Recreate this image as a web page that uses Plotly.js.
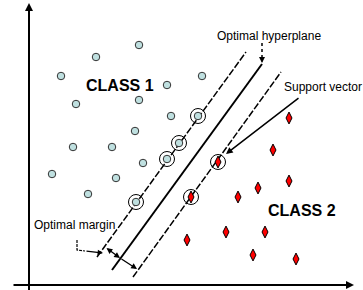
<!DOCTYPE html>
<html><head><meta charset="utf-8">
<script src="https://cdn.plot.ly/plotly-3.0.1.min.js"></script>
<style>html,body{margin:0;padding:0;background:#fff}#c{width:363px;height:290px}</style>
</head><body><div id="c"></div>
<script>
// Class 1 samples (feature 1, feature 2)
const class1X = [110, 67, 32, 138, 173, 47, 110, 142, 106, 44, 83, 23, 87, 59, 114];
const class1Y = [240, 228, 209, 200, 209, 181, 185, 169, 154, 138, 138, 111, 107, 91, 122];
// Class 1 support vectors
const sv1X = [169, 150, 138, 107];
const sv1Y = [169, 142, 126, 83];
// Class 2 samples
const class2X = [260, 244, 260, 229, 209, 197, 236, 158, 224, 267];
const class2Y = [167, 135, 104, 97, 88, 53, 53, 45, 30, 26];
// Class 2 support vectors
const sv2X = [189, 162];
const sv2Y = [123, 88];
// Hyperplane and margin boundaries (end points)
const marginAX = [68, 217], marginAY = [28, 233];
const hyperX = [83, 233], hyperY = [15, 221];
const marginBX = [104, 252], marginBY = [8, 213];
// Labels
const labels = {class1: 'CLASS 1', class2: 'CLASS 2', hyper: 'Optimal hyperplane', sv: 'Support vector', margin: 'Optimal margin'};

const FONT = 'Liberation Sans, Arial, sans-serif';
const traces = [
  {x: marginAX, y: marginAY, mode: 'lines', line: {color: '#000', width: 1.5, dash: '7px,2px'}, hoverinfo: 'skip'},
  {x: hyperX, y: hyperY, mode: 'lines', line: {color: '#000', width: 2}, hoverinfo: 'skip'},
  {x: marginBX, y: marginBY, mode: 'lines', line: {color: '#000', width: 1.5, dash: '7px,2px'}, hoverinfo: 'skip'},
  {x: class1X.concat(sv1X), y: class1Y.concat(sv1Y), mode: 'markers',
   marker: {symbol: 'circle', size: 7.5, color: '#bfe0e0', line: {color: '#333', width: 1}}},
  {x: class2X.concat(sv2X), y: class2Y.concat(sv2Y), mode: 'markers',
   marker: {symbol: 'diamond-tall', size: 8.5, color: '#ff0000', line: {color: '#000', width: 1}}},
  {x: sv1X.concat(sv2X), y: sv1Y.concat(sv2Y), mode: 'markers',
   marker: {symbol: 'circle-open', size: 15, color: '#000', line: {color: '#000', width: 1}}},
  // dotted leader lines
  {x: [233, 233], y: [242, 226], mode: 'lines', line: {color: '#000', width: 1.5, dash: 'dot'}, hoverinfo: 'skip'},
  {x: [48, 48, 56], y: [45, 35, 34], mode: 'lines', line: {color: '#000', width: 1.2, dash: '3px,1px'}, hoverinfo: 'skip'}
];

function arrow(x, y, ax, ay, extra) {
  return Object.assign({x, y, ax, ay, xref: 'x', yref: 'y', axref: 'x', ayref: 'y', text: '',
    showarrow: true, arrowhead: 2, arrowsize: 1, arrowwidth: 1.5, arrowcolor: '#000'}, extra || {});
}
const annotations = [
  arrow(0, 282, 0, -8, {arrowwidth: 2, arrowsize: 0.8}),
  arrow(325, 0, -17, 0, {arrowwidth: 2, arrowsize: 0.8}),
  arrow(233, 222, 233, 228, {arrowsize: 0.8}),
  arrow(197, 131, 271, 188, {arrowwidth: 1.5, arrowsize: 0.9}),
  arrow(74, 32, 56, 34, {arrowwidth: 1.2, arrowsize: 0.9}),
  arrow(91, 27, 76, 38, {arrowside: 'end+start', arrowwidth: 1.3, arrowsize: 0.9}),
  arrow(108, 16, 91, 27, {arrowside: 'end', arrowwidth: 1.3, arrowsize: 0.9}),
  {x: 91, y: 200, xref: 'x', yref: 'y', text: '<b>' + labels.class1 + '</b>', showarrow: false, font: {family: FONT, size: 16, color: '#000'}},
  {x: 273, y: 75, xref: 'x', yref: 'y', text: '<b>' + labels.class2 + '</b>', showarrow: false, font: {family: FONT, size: 16, color: '#000'}},
  {x: 240, y: 249, xref: 'x', yref: 'y', text: labels.hyper, showarrow: false, font: {family: FONT, size: 12, color: '#000'}},
  {x: 253, y: 198, xref: 'x', yref: 'y', xanchor: 'left', text: labels.sv, showarrow: false, font: {family: FONT, size: 12, color: '#000'}},
  {x: 3, y: 60, xref: 'x', yref: 'y', xanchor: 'left', text: labels.margin, showarrow: false, font: {family: FONT, size: 12, color: '#000'}}
];

const layout = {
  width: 363, height: 290, margin: {l: 0, r: 0, t: 0, b: 0},
  paper_bgcolor: '#fff', plot_bgcolor: '#fff', showlegend: false,
  xaxis: {range: [-29, 334], visible: false, fixedrange: true},
  yaxis: {range: [-5, 285], visible: false, fixedrange: true},
  annotations: annotations
};
Plotly.newPlot('c', traces, layout, {staticPlot: true});
</script></body></html>
